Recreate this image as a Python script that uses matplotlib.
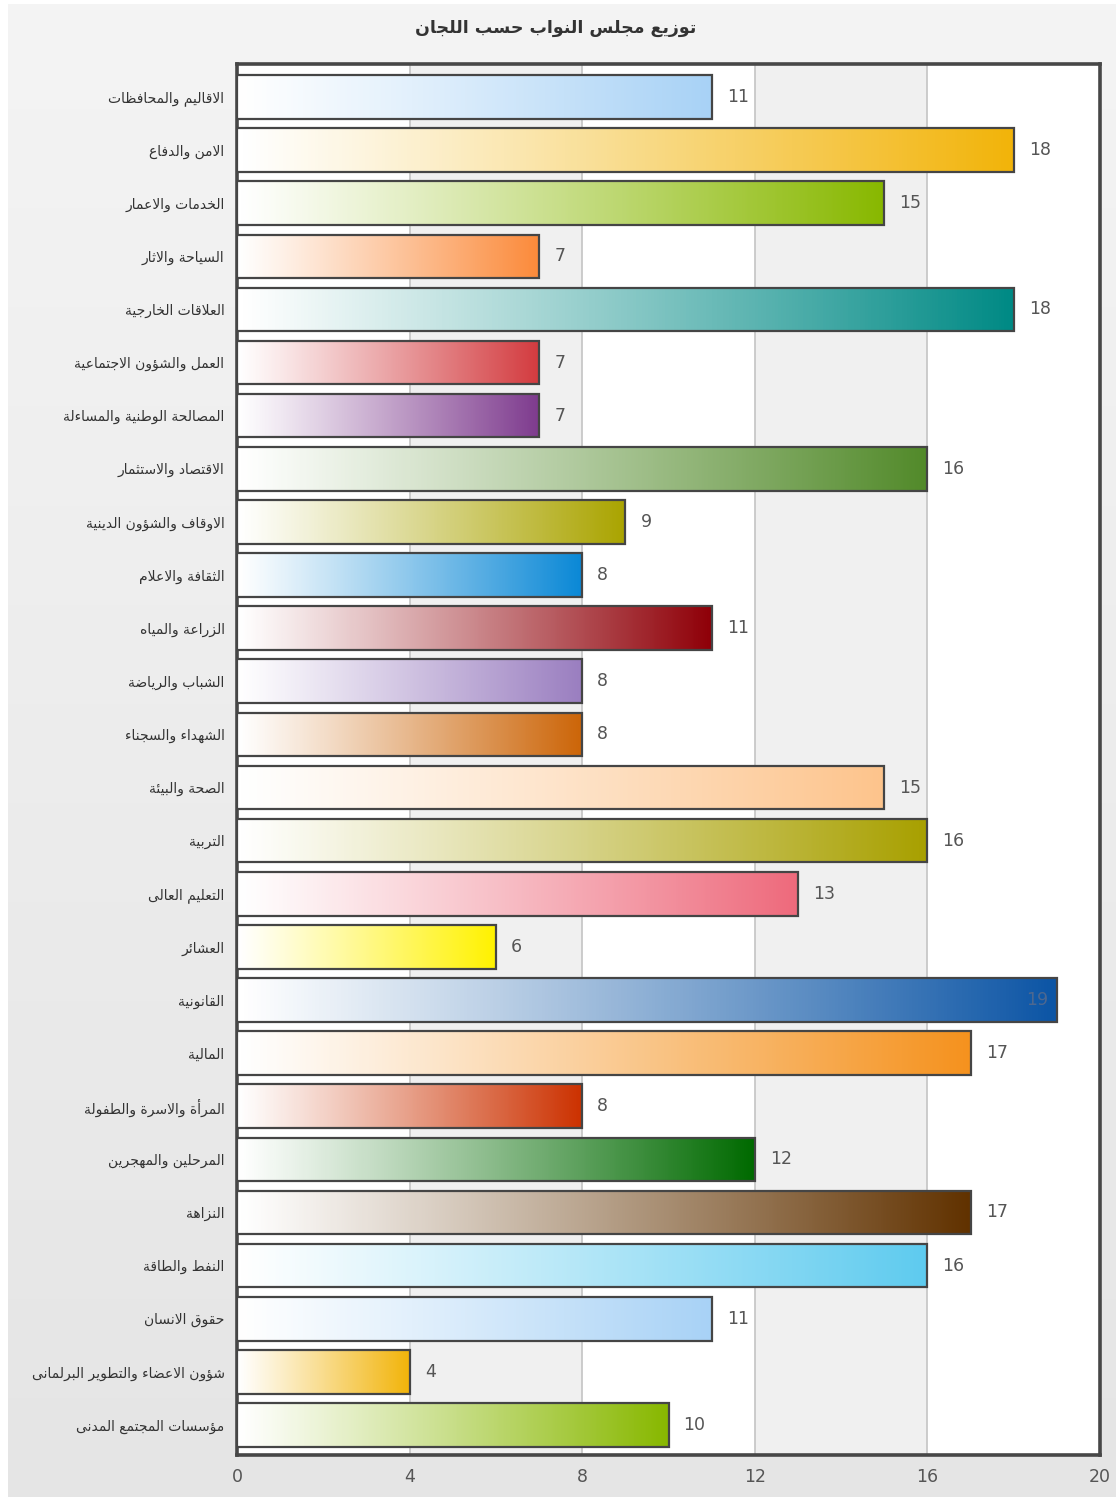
import numpy as np
import matplotlib
matplotlib.use("Agg")
import matplotlib.pyplot as plt
from matplotlib.colors import LinearSegmentedColormap

# ---------------- data ----------------
title = "توزيع مجلس النواب حسب اللجان"
categories = [
    "الاقاليم والمحافظات",
    "الامن والدفاع",
    "الخدمات والاعمار",
    "السياحة والاثار",
    "العلاقات الخارجية",
    "العمل والشؤون الاجتماعية",
    "المصالحة الوطنية والمساءلة",
    "الاقتصاد والاستثمار",
    "الاوقاف والشؤون الدينية",
    "الثقافة والاعلام",
    "الزراعة والمياه",
    "الشباب والرياضة",
    "الشهداء والسجناء",
    "الصحة والبيئة",
    "التربية",
    "التعليم العالى",
    "العشائر",
    "القانونية",
    "المالية",
    "المرأة والاسرة والطفولة",
    "المرحلين والمهجرين",
    "النزاهة",
    "النفط والطاقة",
    "حقوق الانسان",
    "شؤون الاعضاء والتطوير البرلمانى",
    "مؤسسات المجتمع المدنى",
]
values = [11, 18, 15, 7, 18, 7, 7, 16, 9, 8, 11, 8, 8, 15, 16, 13, 6, 19, 17, 8, 12, 17, 16, 11, 4, 10]
bar_colors = ['#a8d2f6', '#f2b40a', '#88b800', '#fb8a3a', '#008a85', '#d33b3f', '#7e3b8e',
              '#528a2a', '#aaa400', '#0a88d6', '#8f0008', '#9a7ec0', '#cc6508', '#fdc48c',
              '#a8a000', '#ee6a7c', '#fff200', '#0c55a5', '#f5921e', '#cc3100', '#006a00',
              '#613200', '#5ecbef', '#a8d2f6', '#f2b40a', '#88b800']
x_ticks = [0, 4, 8, 12, 16, 20]

# ---------------- simple Arabic shaping ----------------
_FORMS = [('ء', 1), ('آ', 2), ('أ', 2), ('ؤ', 2), ('إ', 2), ('ئ', 4), ('ا', 2), ('ب', 4),
          ('ة', 2), ('ت', 4), ('ث', 4), ('ج', 4), ('ح', 4), ('خ', 4), ('د', 2), ('ذ', 2),
          ('ر', 2), ('ز', 2), ('س', 4), ('ش', 4), ('ص', 4), ('ض', 4), ('ط', 4), ('ظ', 4),
          ('ع', 4), ('غ', 4), ('ف', 4), ('ق', 4), ('ك', 4), ('ل', 4), ('م', 4), ('ن', 4),
          ('ه', 4), ('و', 2), ('ى', 2), ('ي', 4)]
_BASE = {}
_code = 0xFE80
for _ch, _n in _FORMS:
    _BASE[_ch] = (_code, _n)
    _code += _n
_LAM_ALEF = {'آ': 0xFEF5, 'أ': 0xFEF7, 'إ': 0xFEF9, 'ا': 0xFEFB}


def _dual(c):
    return c in _BASE and _BASE[c][1] == 4


def _joins(c):
    return c in _BASE and _BASE[c][1] > 1


def shape(text):
    chars = list(text)
    tokens = []
    i = 0
    while i < len(chars):
        c = chars[i]
        if c == 'ل' and i + 1 < len(chars) and chars[i + 1] in _LAM_ALEF:
            tokens.append(('LA', chars[i + 1]))
            i += 2
        else:
            tokens.append(('C', c))
            i += 1

    def join_next(t):
        return t[0] == 'C' and _dual(t[1])

    def join_prev(t):
        return t[0] == 'LA' or _joins(t[1])

    out = []
    for k, t in enumerate(tokens):
        prev = tokens[k - 1] if k > 0 else None
        nxt = tokens[k + 1] if k + 1 < len(tokens) else None
        jp = prev is not None and join_next(prev) and join_prev(t)
        jn = nxt is not None and join_next(t) and join_prev(nxt)
        if t[0] == 'LA':
            out.append(chr(_LAM_ALEF[t[1]] + (1 if jp else 0)))
            continue
        c = t[1]
        if c not in _BASE:
            out.append(c)
            continue
        base, nf = _BASE[c]
        if nf == 1:
            out.append(chr(base))
        elif nf == 2:
            out.append(chr(base + (1 if jp else 0)))
        else:
            f = 3 if (jp and jn) else (1 if jp else (2 if jn else 0))
            out.append(chr(base + f))
    return ''.join(reversed(out))


# ---------------- figure ----------------
plt.rcParams['font.family'] = ['DejaVu Sans']
W, H = 1116, 1497
fig = plt.figure(figsize=(W / 100, H / 100), dpi=100)
fig.patch.set_facecolor('white')

# background panel with soft vertical gradient
bg = fig.add_axes([8 / W, 0, 1 - 8 / W, 1 - 4 / H], zorder=-10)
grad = np.linspace(0, 1, 256).reshape(-1, 1)
bg_cmap = LinearSegmentedColormap.from_list('bg', ['#f4f4f4', '#e5e5e5'])
bg.imshow(grad, cmap=bg_cmap, aspect='auto', extent=[0, 1, 0, 1], origin='upper')
bg.set_axis_off()

ax = fig.add_axes([237 / W, 1 - 1455 / H, (1100 - 237) / W, (1455 - 64) / H])
ax.set_facecolor('white')
n = len(categories)
ypos = np.arange(n)
ax.set_xlim(0, 20)
ax.set_ylim(n - 1 + 0.565, -0.62)

# alternating bands and grid
for k in range(len(x_ticks) - 1):
    if k % 2 == 1:
        ax.axvspan(x_ticks[k], x_ticks[k + 1], color='#f0f0f0', zorder=0, lw=0)
for xt in x_ticks[1:-1]:
    ax.axvline(xt, color='#c4c4c4', lw=1.2, zorder=1)

bars = ax.barh(ypos, values, height=0.82, facecolor='none', edgecolor='#454545',
               linewidth=1.6, zorder=4)

ramp = np.linspace(0, 1, 256) ** 1.1
for bar, col in zip(bars, bar_colors):
    x0, y0 = bar.get_x(), bar.get_y()
    w, h = bar.get_width(), bar.get_height()
    cmap = LinearSegmentedColormap.from_list('g', ['#ffffff', col])
    im = ax.imshow(ramp.reshape(1, -1), cmap=cmap, vmin=0, vmax=1, aspect='auto',
                   extent=[x0, x0 + w, y0 + h, y0], zorder=3, interpolation='bilinear')
    im.set_clip_path(bar)

# restore limits after imshow
ax.set_xlim(0, 20)
ax.set_ylim(n - 1 + 0.565, -0.62)

for yi, v in zip(ypos, values):
    if v + 1.2 > 20:
        ax.text(v - 0.2, yi, str(v), ha='right', va='center', fontsize=12.5,
                color='#4d6890', zorder=5)
    else:
        ax.text(v + 0.35, yi, str(v), ha='left', va='center', fontsize=12.5,
                color='#555555', zorder=5)

ax.set_yticks(ypos)
ax.set_yticklabels([shape(c) for c in categories], fontsize=10, color='#333333')
ax.set_xticks(x_ticks)
ax.set_xticklabels([str(t) for t in x_ticks], fontsize=12.5, color='#555555')
ax.tick_params(axis='both', length=0)
ax.tick_params(axis='y', pad=9)
ax.tick_params(axis='x', pad=9)

for s in ax.spines.values():
    s.set_color('#474747')
    s.set_linewidth(2.6)

fig.text(556 / W, 1 - 28 / H, shape(title), ha='center', va='center', fontsize=12.5,
         fontweight='bold', color='#333333')

fig.savefig('out.png', dpi=100, facecolor=fig.get_facecolor())
